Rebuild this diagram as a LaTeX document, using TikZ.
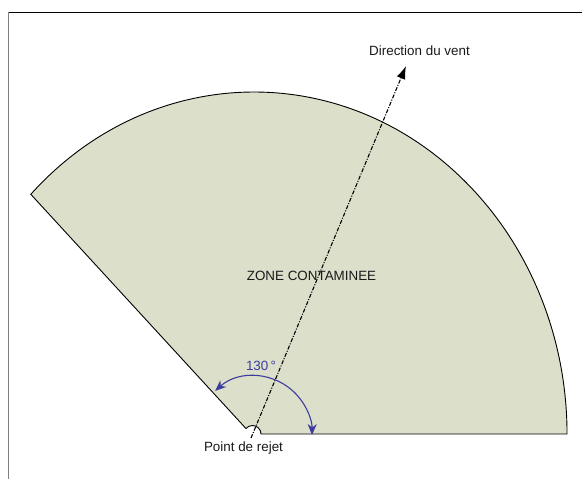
\documentclass[tikz,border=0pt]{standalone}
\usepackage{fontspec}
\setmainfont{Liberation Sans}
\usetikzlibrary{arrows.meta}
\definecolor{zonefill}{HTML}{DCE0CA}
\definecolor{angblue}{HTML}{3C3C9E}
\definecolor{framegray}{HTML}{808080}
\begin{document}
\begin{tikzpicture}[x=1pt,y=1pt,
  lbl/.style={inner sep=0pt,font=\fontsize{13.4}{16}\selectfont,text=black!90},
  outline/.style={draw=black,line width=0.9pt,line join=miter},
  wind/.style={line width=1.1pt,dash pattern=on 4pt off 1.5pt on 1pt off 1.5pt,-{Latex[length=13pt,width=9pt]}},
  angarrow/.style={draw=angblue,line width=1.1pt,{Stealth[length=11pt,width=9pt]}-{Stealth[length=11pt,width=9pt]}}]
\useasboundingbox (0,0) rectangle (582,479);
% frame
\draw[black,line width=1pt] (8,466.5) -- (582,466.5);
\draw[framegray,line width=1.4pt] (8.5,466.5) -- (8.5,0);
% coordinates
\coordinate (O) at (254,45);
\coordinate (B) at (261,45);
% contaminated zone
\draw[outline,fill=zonefill]
  (B) arc[start angle=0,end angle=140,radius=8.5]
  -- (30.8,284.7)
  arc[start angle=135.5,end angle=0,x radius=313,y radius=342]
  -- cycle;
% wind direction
\coordinate (W0) at (251,41);
\coordinate (W1) at (406,413);
\draw[wind] (W0) -- (W1);
\node[lbl] (dir) at (419.5,428) {Direction du vent};
% labels
\node[lbl] (zone) at (311.5,203) {ZONE CONTAMINEE};
\node[lbl] (rejet) at (243.5,31) {Point de rejet};
% angle
\draw[angarrow] (O) ++(132:58) arc[start angle=132,end angle=-1,radius=58];
\node[lbl,text=angblue] (ang) at (261,113) {130\,°};
\end{tikzpicture}
\end{document}
